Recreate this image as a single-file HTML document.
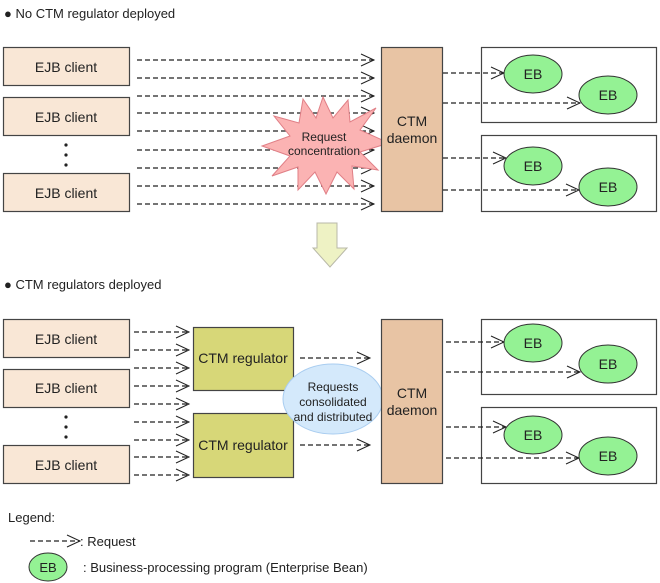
<!DOCTYPE html>
<html><head><meta charset="utf-8"><style>
html,body{margin:0;padding:0;background:#fff}
svg{display:block;font-family:"Liberation Sans",Arial,sans-serif}
</style></head><body>
<svg width="660" height="583" viewBox="0 0 660 583" xmlns="http://www.w3.org/2000/svg">
<defs>
<marker id="a" markerWidth="16" markerHeight="14" refX="14" refY="7" orient="auto" markerUnits="userSpaceOnUse">
<path d="M1,1 L14,7 L1,13" fill="none" stroke="#222" stroke-width="1"/>
</marker>
</defs>
<g font-size="13" fill="#222">
<text x="4" y="18">● No CTM regulator deployed</text>
<text x="4" y="289">● CTM regulators deployed</text>
</g>

<!-- TOP -->
<g fill="#f9e7d6" stroke="#444" stroke-width="1.2">
<rect x="3.5" y="47.5" width="126" height="38"/>
<rect x="3.5" y="97.5" width="126" height="38"/>
<rect x="3.5" y="173.5" width="126" height="38"/>
</g>
<g font-size="14" fill="#222" text-anchor="middle">
<text x="66" y="72">EJB client</text>
<text x="66" y="122">EJB client</text>
<text x="66" y="198">EJB client</text>
</g>
<g fill="#222"><circle cx="66" cy="145" r="1.6"/><circle cx="66" cy="155" r="1.6"/><circle cx="66" cy="165" r="1.6"/></g>
<g stroke="#222" stroke-width="1.2" stroke-dasharray="5,3" marker-end="url(#a)">
<line x1="137" y1="60" x2="374" y2="60"/>
<line x1="137" y1="78" x2="374" y2="78"/>
<line x1="137" y1="96" x2="374" y2="96"/>
<line x1="137" y1="113" x2="374" y2="113"/>
<line x1="137" y1="131" x2="374" y2="131"/>
<line x1="137" y1="150" x2="374" y2="150"/>
<line x1="137" y1="168" x2="374" y2="168"/>
<line x1="137" y1="186" x2="374" y2="186"/>
<line x1="137" y1="204" x2="374" y2="204"/>
</g>
<polygon fill="#fbb3b3" stroke="#e07f86" stroke-width="1" points="323,97 333,118 348,100 350,122 376,108 360,130 389,143 360,152 378,170 352,166 354,189 337,172 326,194 315,172 298,190 298,167 272,176 290,156 262,146 290,136 274,116 299,123 303,99 316,118"/>
<g font-size="12" fill="#222" text-anchor="middle">
<text x="324" y="141">Request</text>
<text x="324" y="155">concentration</text>
</g>
<rect x="381.5" y="47.5" width="61" height="164" fill="#e8c4a4" stroke="#444" stroke-width="1.2"/>
<g font-size="14" fill="#222" text-anchor="middle"><text x="412" y="126">CTM</text><text x="412" y="143">daemon</text></g>
<g fill="#fff" stroke="#444" stroke-width="1.2">
<rect x="481.5" y="47.5" width="175" height="75"/>
<rect x="481.5" y="135.5" width="175" height="76"/>
</g>
<g stroke="#222" stroke-width="1.2" stroke-dasharray="5,3" marker-end="url(#a)">
<line x1="443" y1="73" x2="504" y2="73"/>
<line x1="443" y1="103" x2="580" y2="103"/>
<line x1="443" y1="158" x2="506" y2="158"/>
<line x1="443" y1="190" x2="579" y2="190"/>
</g>
<g fill="#94f294" stroke="#333" stroke-width="1">
<ellipse cx="533" cy="74" rx="29" ry="19"/>
<ellipse cx="608" cy="95" rx="29" ry="19"/>
<ellipse cx="533" cy="166" rx="29" ry="19"/>
<ellipse cx="608" cy="187" rx="29" ry="19"/>
</g>
<g font-size="14" fill="#222" text-anchor="middle">
<text x="533" y="79">EB</text><text x="608" y="100">EB</text>
<text x="533" y="171">EB</text><text x="608" y="192">EB</text>
</g>

<!-- down arrow -->
<polygon points="317,223 337,223 337,248 347,248 330,267 313,248 317,248" fill="#eef2c4" stroke="#b8b8a8" stroke-width="1"/>

<!-- BOTTOM -->
<g fill="#f9e7d6" stroke="#444" stroke-width="1.2">
<rect x="3.5" y="319.5" width="126" height="38"/>
<rect x="3.5" y="369.5" width="126" height="38"/>
<rect x="3.5" y="445.5" width="126" height="38"/>
</g>
<g font-size="14" fill="#222" text-anchor="middle">
<text x="66" y="344">EJB client</text>
<text x="66" y="393">EJB client</text>
<text x="66" y="470">EJB client</text>
</g>
<g fill="#222"><circle cx="66" cy="417" r="1.6"/><circle cx="66" cy="427" r="1.6"/><circle cx="66" cy="437" r="1.6"/></g>
<g stroke="#222" stroke-width="1.2" stroke-dasharray="5,3" marker-end="url(#a)">
<line x1="134" y1="332" x2="189" y2="332"/>
<line x1="134" y1="350" x2="189" y2="350"/>
<line x1="134" y1="368" x2="189" y2="368"/>
<line x1="134" y1="386" x2="189" y2="386"/>
<line x1="134" y1="404" x2="189" y2="404"/>
<line x1="134" y1="422" x2="189" y2="422"/>
<line x1="134" y1="440" x2="189" y2="440"/>
<line x1="134" y1="457" x2="189" y2="457"/>
<line x1="134" y1="475" x2="189" y2="475"/>
<line x1="300" y1="358" x2="370" y2="358"/>
<line x1="300" y1="445" x2="370" y2="445"/>
</g>
<g fill="#d7d778" stroke="#444" stroke-width="1.2">
<rect x="193.5" y="327.5" width="100" height="63"/>
<rect x="193.5" y="413.5" width="100" height="64"/>
</g>
<g font-size="14" fill="#222" text-anchor="middle">
<text x="243" y="363">CTM regulator</text>
<text x="243" y="450">CTM regulator</text>
</g>
<ellipse cx="333" cy="399" rx="50" ry="35" fill="#d4e9fb" stroke="#a9cdf0" stroke-width="1"/>
<g font-size="12" fill="#222" text-anchor="middle">
<text x="333" y="391">Requests</text>
<text x="333" y="406">consolidated</text>
<text x="333" y="421">and distributed</text>
</g>
<rect x="381.5" y="319.5" width="61" height="164" fill="#e8c4a4" stroke="#444" stroke-width="1.2"/>
<g font-size="14" fill="#222" text-anchor="middle"><text x="412" y="398">CTM</text><text x="412" y="415">daemon</text></g>
<g fill="#fff" stroke="#444" stroke-width="1.2">
<rect x="481.5" y="319.5" width="175" height="75"/>
<rect x="481.5" y="407.5" width="175" height="76"/>
</g>
<g stroke="#222" stroke-width="1.2" stroke-dasharray="5,3" marker-end="url(#a)">
<line x1="446" y1="342" x2="504" y2="342"/>
<line x1="446" y1="372" x2="580" y2="372"/>
<line x1="446" y1="427" x2="506" y2="427"/>
<line x1="446" y1="458" x2="579" y2="458"/>
</g>
<g fill="#94f294" stroke="#333" stroke-width="1">
<ellipse cx="533" cy="343" rx="29" ry="19"/>
<ellipse cx="608" cy="364" rx="29" ry="19"/>
<ellipse cx="533" cy="435" rx="29" ry="19"/>
<ellipse cx="608" cy="456" rx="29" ry="19"/>
</g>
<g font-size="14" fill="#222" text-anchor="middle">
<text x="533" y="348">EB</text><text x="608" y="369">EB</text>
<text x="533" y="440">EB</text><text x="608" y="461">EB</text>
</g>

<!-- legend -->
<g font-size="13" fill="#222">
<text x="8" y="522">Legend:</text>
<text x="80" y="546">: Request</text>
<text x="83" y="572">: Business-processing program (Enterprise Bean)</text>
</g>
<line x1="30" y1="541" x2="80" y2="541" stroke="#222" stroke-width="1.2" stroke-dasharray="5,3" marker-end="url(#a)"/>
<ellipse cx="48" cy="567" rx="19" ry="14" fill="#94f294" stroke="#333" stroke-width="1"/>
<text x="48" y="572" font-size="13" fill="#222" text-anchor="middle">EB</text>
</svg>
</body></html>
